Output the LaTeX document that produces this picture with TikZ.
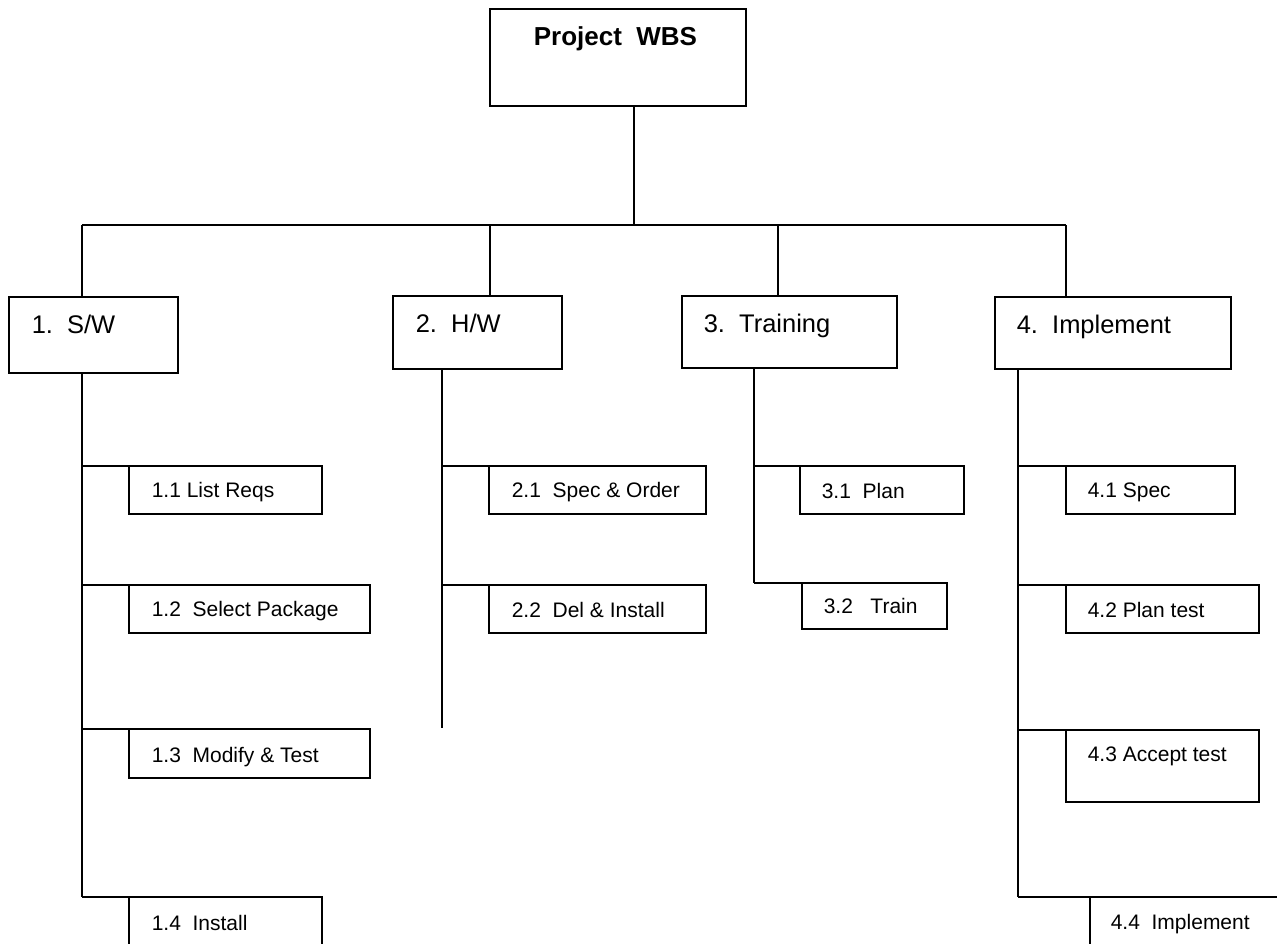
\documentclass[tikz,border=0pt]{standalone}
\usepackage{fontspec}
\setmainfont{Liberation Sans}
\begin{document}
\frenchspacing
\begin{tikzpicture}[x=0.75pt,y=-0.75pt, line width=1.2pt,
  box/.style n args={2}{draw, rectangle, anchor=north west, inner sep=0pt, outer sep=0pt,
     minimum width=#1*0.75pt, minimum height=#2*0.75pt},
  maintxt/.style={anchor=base west, inner sep=0pt, font=\fontsize{19.1pt}{22pt}\selectfont},
  subtxt/.style={anchor=base west, inner sep=0pt, font=\fontsize{15.75pt}{18pt}\selectfont},
  ttltxt/.style={anchor=base west, inner sep=0pt, font=\fontsize{19.5pt}{22pt}\selectfont\bfseries}]
\useasboundingbox (0,0) rectangle (1277,943);
\clip (0,0) rectangle (1277,943);

% top
\node[box={256}{97}] (T) at (490,9) {};
\node[ttltxt] (tT) at (533,45) {Project\ \ WBS};

% level 1
\node[box={169}{76}] (SW) at (9,297) {};
\node[maintxt] (tSW) at (31,333) {1.\ \ S/W};
\node[box={169}{73}] (HW) at (393,296) {};
\node[maintxt] (tHW) at (415,332) {2.\ \ H/W};
\node[box={215}{72}] (TR) at (682,296) {};
\node[maintxt] (tTR) at (703,332) {3.\ \ Training};
\node[box={236}{72}] (IM) at (995,297) {};
\node[maintxt] (tIM) at (1016,333) {4.\ \ Implement};

% level 2 : S/W
\node[box={193}{48}] (b11) at (129,466) {};
\node[subtxt] (t11) at (151,497) {1.1 List Reqs};
\node[box={241}{48}] (b12) at (129,585) {};
\node[subtxt] (t12) at (151,616) {1.2\ \ Select Package};
\node[box={241}{49}] (b13) at (129,729) {};
\node[subtxt] (t13) at (151,762) {1.3\ \ Modify \& Test};
\node[box={193}{80}] (b14) at (129,897) {};
\node[subtxt] (t14) at (151,930) {1.4\ \ Install};

% H/W
\node[box={217}{48}] (b21) at (489,466) {};
\node[subtxt] (t21) at (511,497) {2.1\ \ Spec \& Order};
\node[box={217}{48}] (b22) at (489,585) {};
\node[subtxt] (t22) at (511,617) {2.2\ \ Del \& Install};

% Training
\node[box={164}{48}] (b31) at (800,466) {};
\node[subtxt] (t31) at (821,498) {3.1\ \ Plan};
\node[box={145}{46}] (b32) at (802,583) {};
\node[subtxt] (t32) at (823,613) {3.2\ \ \ Train};

% Implement
\node[box={169}{48}] (b41) at (1066,466) {};
\node[subtxt] (t41) at (1087,497) {4.1 Spec};
\node[box={193}{48}] (b42) at (1066,585) {};
\node[subtxt] (t42) at (1087,617) {4.2 Plan test};
\node[box={193}{72}] (b43) at (1066,730) {};
\node[subtxt] (t43) at (1087,761) {4.3 Accept test};
\node[box={250}{80}] (b44) at (1090,897) {};
\node[subtxt] (t44) at (1110,929) {4.4\ \ Implement};

% connectors
\coordinate (barL) at (82,225);
\coordinate (barT) at (634,225);
\coordinate (d2) at (490,225);
\coordinate (d3) at (778,225);
\coordinate (barR) at (1066,225);
\draw (barL) -- (barR);
\draw (barT |- T.south) -- (barT);
\draw (barL) -- (barL |- SW.north);
\draw (d2) -- (d2 |- HW.north);
\draw (d3) -- (d3 |- TR.north);
\draw (barR) -- (barR |- IM.north);

% spines
\coordinate (s1) at (82,0);
\draw (s1 |- SW.south) -- (s1 |- b14.north);
\draw (s1 |- b11.north) -- (b11.north west);
\draw (s1 |- b12.north) -- (b12.north west);
\draw (s1 |- b13.north) -- (b13.north west);
\draw (s1 |- b14.north) -- (b14.north west);

\coordinate (e2) at (442,728);
\draw (e2 |- HW.south) -- (e2);
\draw (e2 |- b21.north) -- (b21.north west);
\draw (e2 |- b22.north) -- (b22.north west);

\coordinate (s3) at (754,0);
\draw (s3 |- TR.south) -- (s3 |- b32.north);
\draw (s3 |- b31.north) -- (b31.north west);
\draw (s3 |- b32.north) -- (b32.north west);

\coordinate (s4) at (1018,0);
\draw (s4 |- IM.south) -- (s4 |- b44.north);
\draw (s4 |- b41.north) -- (b41.north west);
\draw (s4 |- b42.north) -- (b42.north west);
\draw (s4 |- b43.north) -- (b43.north west);
\draw (s4 |- b44.north) -- (b44.north west);
\end{tikzpicture}
\end{document}
